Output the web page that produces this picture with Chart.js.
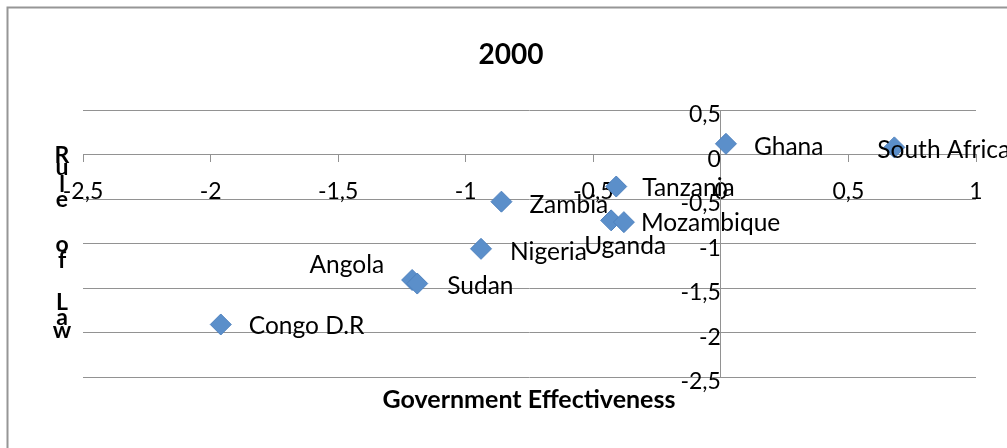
<!DOCTYPE html>
<html>
<head>
  <title>2000 - Rule of Law vs Government Effectiveness</title>
  <script src="https://cdn.jsdelivr.net/npm/chart.js"></script>
  <style>
    body { margin: 0; background: #fff; }
    #chart { display: block; }
  </style>
</head>
<body>
  <canvas id="chart" width="1007" height="448"></canvas>
  <script>
    // data
    const countries = ['Ghana', 'South Africa', 'Tanzania', 'Zambia', 'Uganda', 'Mozambique', 'Nigeria', 'Angola', 'Sudan', 'Congo D.R'];
    const govEffectiveness = [0.02, 0.68, -0.41, -0.86, -0.43, -0.38, -0.94, -1.21, -1.19, -1.96];
    const ruleOfLaw = [0.12, 0.08, -0.36, -0.53, -0.74, -0.76, -1.06, -1.41, -1.45, -1.91];
    const titleText = '2000';
    const xTitle = 'Government Effectiveness';
    const yTitle = 'Rule of Law';

    // label placement next to each marker (px from the marker centre)
    const labelDx = [28, -17, 26, 28, -27, 17, 29, -28, 30, 28];
    const labelDy = [3, 3, 2, 3, 26, 1, 3, -15, 3, 2];
    const labelAlign = ['left', 'left', 'left', 'left', 'left', 'left', 'left', 'right', 'left', 'left'];
    // baselines of the stacked y title letters
    const yTitleBaselines = [163, 175, 192, 207, 0, 252, 268, 0, 310, 325, 338];

    const FONT = 'Lato, "Open Sans", sans-serif';
    const GRID = '#929292';
    const fmt = v => String(v).replace('.', ',');

    const decorations = {
      id: 'decorations',
      beforeDraw(chart) {
        const ctx = chart.ctx;
        ctx.save();
        ctx.fillStyle = '#fff';
        ctx.fillRect(0, 0, chart.width, chart.height);
        ctx.strokeStyle = '#969696';
        ctx.lineWidth = 2;
        ctx.strokeRect(7.5, 7.5, 1100, 500);
        ctx.restore();
      },
      afterDatasetsDraw(chart) {
        const ctx = chart.ctx;
        const meta = chart.getDatasetMeta(0);
        ctx.save();
        ctx.fillStyle = '#000';
        ctx.font = '24.5px ' + FONT;
        ctx.textBaseline = 'middle';
        meta.data.forEach((pt, i) => {
          ctx.textAlign = labelAlign[i];
          ctx.fillText(countries[i], pt.x + labelDx[i], pt.y + labelDy[i]);
        });
        // title
        ctx.textAlign = 'center';
        ctx.textBaseline = 'alphabetic';
        ctx.font = 'bold 28px ' + FONT;
        ctx.fillText(titleText, 511, 64);
        // x axis title
        ctx.font = 'bold 25px ' + FONT;
        ctx.fillText(xTitle, 529, 408);
        // y axis title, letters stacked
        ctx.font = 'bold 23px ' + FONT;
        yTitle.split('').forEach((ch, i) => {
          if (ch !== ' ') ctx.fillText(ch, 62, yTitleBaselines[i]);
        });
        ctx.restore();
      }
    };

    new Chart(document.getElementById('chart'), {
      type: 'scatter',
      data: {
        datasets: [{
          label: titleText,
          data: govEffectiveness.map((x, i) => ({ x: x, y: ruleOfLaw[i] })),
          pointStyle: 'rectRot',
          pointRadius: 10.5,
          pointHoverRadius: 10.5,
          backgroundColor: '#5B8FCA',
          borderColor: '#4F82BF',
          borderWidth: 1
        }]
      },
      options: {
        responsive: false,
        animation: false,
        layout: { padding: { left: 83, right: 31, top: 110, bottom: 71 } },
        plugins: {
          legend: { display: false },
          tooltip: { enabled: false }
        },
        scales: {
          x: {
            type: 'linear',
            min: -2.5,
            max: 1,
            position: { y: 0 },
            grid: { drawOnChartArea: false, color: GRID, tickLength: 7 },
            border: { color: GRID },
            ticks: {
              stepSize: 0.5,
              padding: 16,
              color: '#000',
              font: { family: FONT, size: 23 },
              callback: fmt
            }
          },
          y: {
            type: 'linear',
            min: -2.5,
            max: 0.5,
            position: { x: 0 },
            grid: { color: GRID, tickLength: 7 },
            border: { color: GRID },
            ticks: {
              stepSize: 0.5,
              padding: 19,
              labelOffset: 5,
              color: '#000',
              font: { family: FONT, size: 23 },
              callback: fmt
            }
          }
        }
      },
      plugins: [decorations]
    });
  </script>
</body>
</html>
